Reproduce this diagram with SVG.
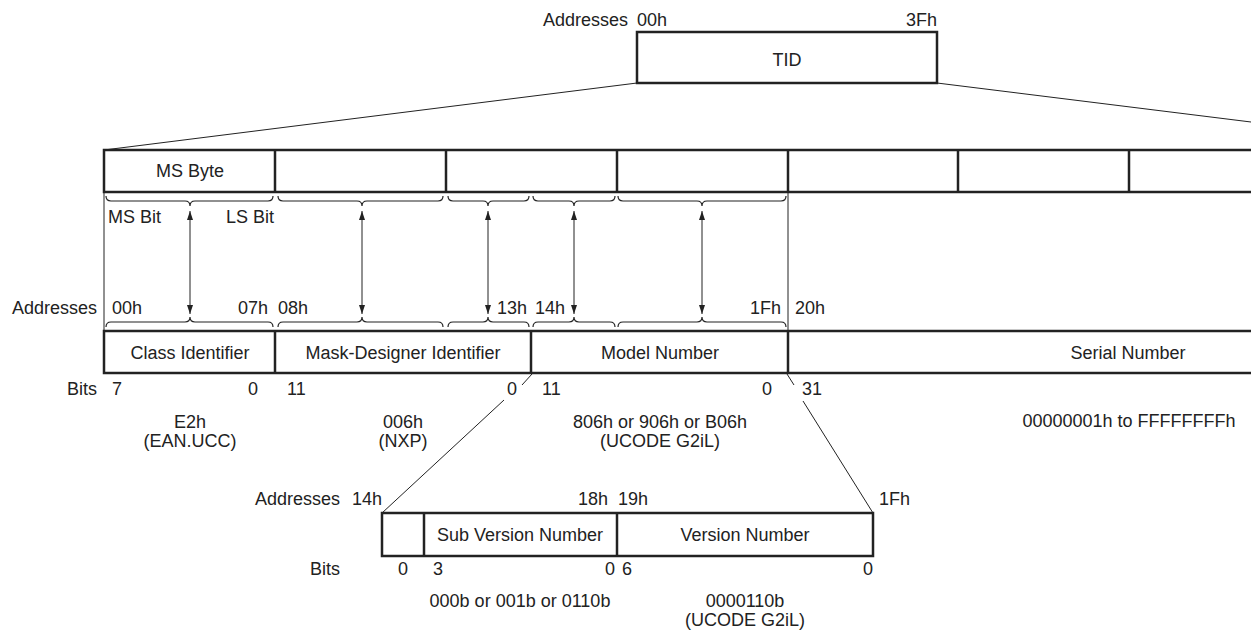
<svg xmlns="http://www.w3.org/2000/svg" width="1251" height="637" viewBox="0 0 1251 637">
<defs>
<style>
text{font-family:"Liberation Sans",Arial,sans-serif;font-size:18px;fill:#222}
.m{text-anchor:middle}.e{text-anchor:end}
.box{fill:#fff;stroke:#222;stroke-width:2.5}
.thin{fill:none;stroke:#222;stroke-width:1}
.brace{fill:none;stroke:#222;stroke-width:1.2}
.arr{stroke:#222;stroke-width:1;marker-start:url(#ah);marker-end:url(#ah)}
</style>
<marker id="ah" viewBox="0 0 9 6" refX="9" refY="3" markerWidth="9" markerHeight="6" markerUnits="userSpaceOnUse" orient="auto-start-reverse"><path d="M0,0 L9,3 L0,6 z" fill="#222"/></marker>
</defs>
<rect width="1251" height="637" fill="#fff"/>

<g id="connectors">
<line class="thin" x1="637" y1="83" x2="104" y2="150"/>
<line class="thin" x1="937" y1="83" x2="1251" y2="122"/>
<line class="thin" x1="104" y1="192" x2="104" y2="331"/>
<line class="thin" x1="788" y1="192" x2="788" y2="331"/>
<path class="brace" d="M106,196 q0,5 5,5 L185,201 q5,0 5,5 q0,-5 5,-5 L268,201 q5,0 5,-5"/>
<path class="brace" d="M278,196 q0,5 5,5 L357,201 q5,0 5,5 q0,-5 5,-5 L438,201 q5,0 5,-5"/>
<path class="brace" d="M448,196 q0,5 5,5 L483,201 q5,0 5,5 q0,-5 5,-5 L524,201 q5,0 5,-5"/>
<path class="brace" d="M533,196 q0,5 5,5 L569,201 q5,0 5,5 q0,-5 5,-5 L610,201 q5,0 5,-5"/>
<path class="brace" d="M618,196 q0,5 5,5 L697,201 q5,0 5,5 q0,-5 5,-5 L781,201 q5,0 5,-5"/>
<path class="brace" d="M106,327 q0,-5 5,-5 L185,322 q5,0 5,-5 q0,5 5,5 L268,322 q5,0 5,5"/>
<path class="brace" d="M278,327 q0,-5 5,-5 L357,322 q5,0 5,-5 q0,5 5,5 L438,322 q5,0 5,5"/>
<path class="brace" d="M448,327 q0,-5 5,-5 L483,322 q5,0 5,-5 q0,5 5,5 L524,322 q5,0 5,5"/>
<path class="brace" d="M533,327 q0,-5 5,-5 L569,322 q5,0 5,-5 q0,5 5,5 L610,322 q5,0 5,5"/>
<path class="brace" d="M618,327 q0,-5 5,-5 L697,322 q5,0 5,-5 q0,5 5,5 L781,322 q5,0 5,5"/>
<line class="arr" x1="190" y1="211" x2="190" y2="314"/>
<line class="arr" x1="362" y1="211" x2="362" y2="314"/>
<line class="arr" x1="488" y1="211" x2="488" y2="314"/>
<line class="arr" x1="574" y1="211" x2="574" y2="314"/>
<line class="arr" x1="702" y1="211" x2="702" y2="314"/>
<line class="thin" x1="532" y1="374" x2="522" y2="385"/>
<line class="thin" x1="504" y1="400" x2="382" y2="513"/>
<line class="thin" x1="787" y1="374" x2="794" y2="385"/>
<line class="thin" x1="803" y1="401" x2="873" y2="513"/>
</g>

<g id="tid">
<rect class="box" x="637" y="32" width="300" height="51"/>
<text class="m" x="787" y="66">TID</text>
<text class="e" x="628" y="26">Addresses</text>
<text x="637" y="26">00h</text>
<text class="e" x="937" y="26">3Fh</text>
</g>

<g id="bytes">
<rect class="box" x="104" y="150" width="1160" height="42"/>
<line class="box" x1="275" y1="150" x2="275" y2="192"/>
<line class="box" x1="446" y1="150" x2="446" y2="192"/>
<line class="box" x1="617" y1="150" x2="617" y2="192"/>
<line class="box" x1="788" y1="150" x2="788" y2="192"/>
<line class="box" x1="958" y1="150" x2="958" y2="192"/>
<line class="box" x1="1129" y1="150" x2="1129" y2="192"/>
<text class="m" x="190" y="177">MS Byte</text>
</g>

<g id="bit-labels">
<text x="108" y="223">MS Bit</text>
<text class="e" x="274" y="223">LS Bit</text>
<text class="e" x="97" y="314">Addresses</text>
<text x="112" y="314">00h</text>
<text class="e" x="268" y="314">07h</text>
<text x="278" y="314">08h</text>
<text x="497" y="314">13h</text>
<text x="535" y="314">14h</text>
<text class="e" x="781" y="314">1Fh</text>
<text x="795" y="314">20h</text>
</g>

<g id="fields">
<rect class="box" x="104" y="331" width="1160" height="42"/>
<line class="box" x1="275" y1="331" x2="275" y2="373"/>
<line class="box" x1="531" y1="331" x2="531" y2="373"/>
<line class="box" x1="788" y1="331" x2="788" y2="373"/>
<text class="m" x="190" y="359">Class Identifier</text>
<text class="m" x="403" y="359">Mask-Designer Identifier</text>
<text class="m" x="660" y="359">Model Number</text>
<text class="m" x="1128" y="359">Serial Number</text>
<text class="e" x="97" y="395">Bits</text>
<text x="112" y="395">7</text>
<text class="e" x="258" y="395">0</text>
<text x="287" y="395">11</text>
<text class="e" x="517" y="395">0</text>
<text x="542" y="395">11</text>
<text class="e" x="772" y="395">0</text>
<text x="802" y="395">31</text>
<text class="m" x="190" y="428">E2h</text>
<text class="m" x="190" y="447">(EAN.UCC)</text>
<text class="m" x="403" y="428">006h</text>
<text class="m" x="403" y="447">(NXP)</text>
<text class="m" x="660" y="428">806h or 906h or B06h</text>
<text class="m" x="660" y="447">(UCODE G2iL)</text>
<text class="m" x="1129" y="427">00000001h to FFFFFFFFh</text>
</g>

<g id="model-detail">
<rect class="box" x="382" y="513" width="491" height="43"/>
<line class="box" x1="424" y1="513" x2="424" y2="556"/>
<line class="box" x1="617" y1="513" x2="617" y2="556"/>
<text class="e" x="340" y="505">Addresses</text>
<text class="e" x="382" y="505">14h</text>
<text class="e" x="608" y="505">18h</text>
<text x="618" y="505">19h</text>
<text x="879" y="505">1Fh</text>
<text class="m" x="520" y="541">Sub Version Number</text>
<text class="m" x="745" y="541">Version Number</text>
<text class="e" x="340" y="575">Bits</text>
<text class="e" x="408" y="575">0</text>
<text x="433" y="575">3</text>
<text class="e" x="615" y="575">0</text>
<text x="622" y="575">6</text>
<text class="e" x="873" y="575">0</text>
<text class="m" x="520" y="607">000b or 001b or 0110b</text>
<text class="m" x="745" y="607">0000110b</text>
<text class="m" x="745" y="626">(UCODE G2iL)</text>
</g>
</svg>
